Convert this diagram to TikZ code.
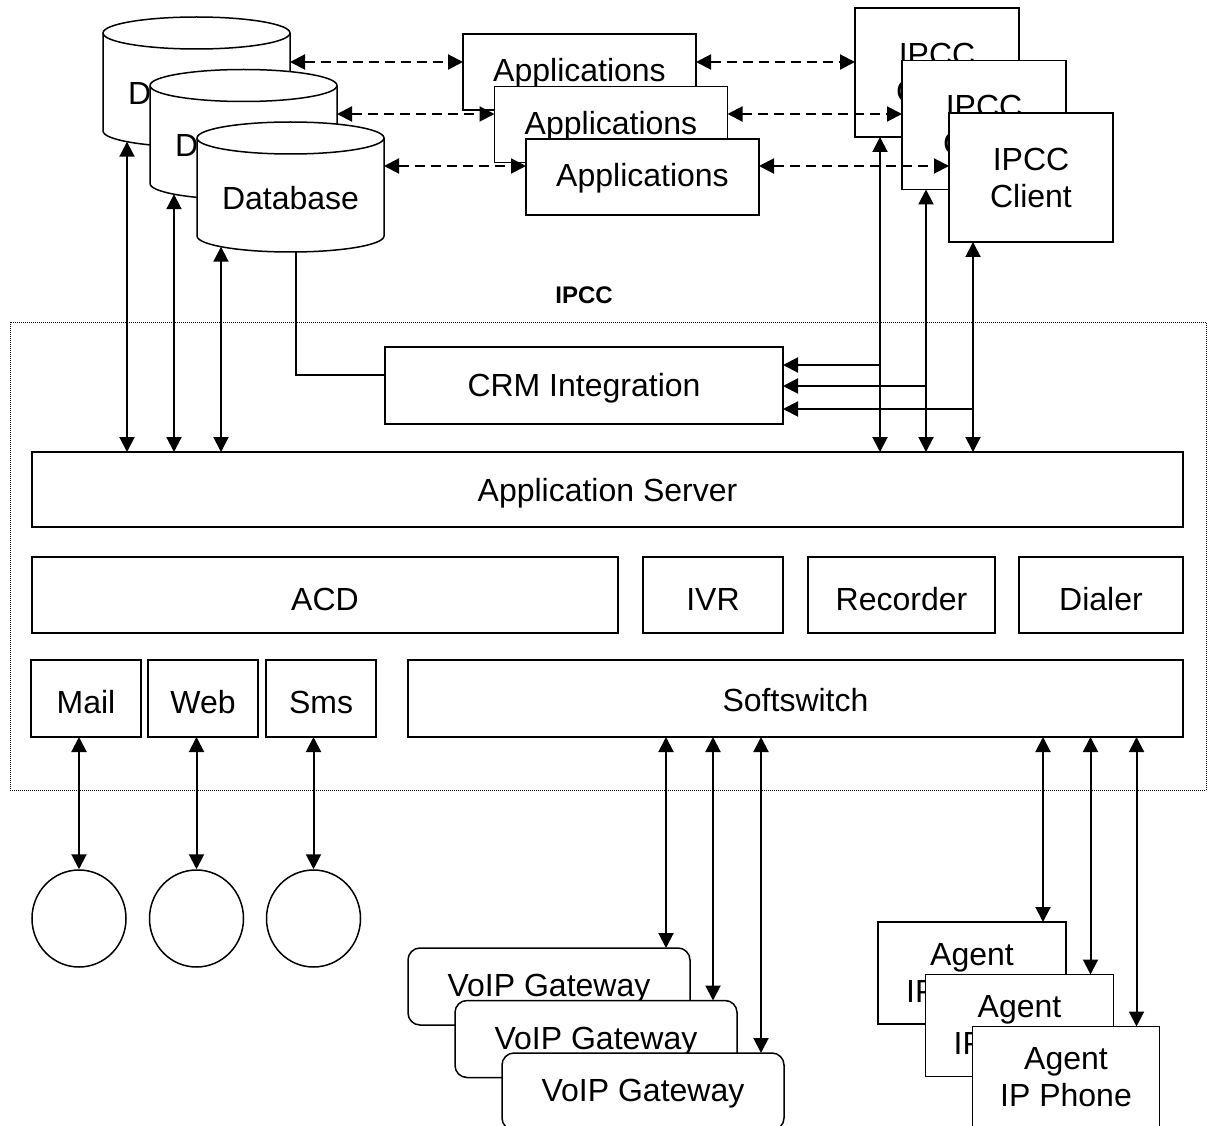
\documentclass[tikz,border=0pt]{standalone}
\usepackage{fontspec}
\setmainfont{Liberation Sans}
\usetikzlibrary{arrows.meta,shapes.geometric}
% cylinder outline drawn over the bounding rectangle of a named node
\newcommand\drawcyl[1]{%
  \filldraw[cyl] ([yshift=-16pt]#1.north west) -- ([yshift=16pt]#1.south west)
    arc[start angle=180,end angle=360,x radius=93.5pt,y radius=16pt]
    -- ([yshift=-16pt]#1.north east)
    arc[start angle=0,end angle=180,x radius=93.5pt,y radius=16pt] -- cycle;
  \draw[cyl,fill=none] ([yshift=-16pt]#1.north west)
    arc[start angle=180,end angle=360,x radius=93.5pt,y radius=16pt];}
\begin{document}
\begin{tikzpicture}[x=1pt,y=-1pt,
  >={Triangle[length=15pt,width=15pt]},
  txt/.style={font=\fontsize{32}{37}\selectfont},
  box/.style={txt, draw, line width=1.5pt, fill=white, rectangle, inner sep=0pt, outer sep=0pt, align=center},
  tb/.style={text height=#1, text depth=0pt},
  rbox/.style={box, rounded corners=12pt},
  slot/.style={rectangle, inner sep=0pt, outer sep=0pt},
  cyl/.style={draw, fill=white, line width=1.5pt},
  lbl/.style={txt, inner sep=0pt},
  bi/.style={<->, line width=2pt},
  one/.style={->, line width=2pt},
  dbi/.style={<->, line width=2pt, dash pattern=on 10pt off 6pt},
  link/.style={line width=1.5pt},
  frame/.style={draw, line width=1pt, dash pattern=on 1pt off 1pt, inner sep=0pt, outer sep=0pt}]

\fill[white] (0,0) rectangle (1208,1126);
\useasboundingbox (0,0) rectangle (1208,1126);
\clip (0,0) rectangle (1208,1126);

% IPCC platform boundary
\node[frame, minimum width=1196pt, minimum height=468pt] (ipcc) at (608,556) {};
\node[font=\fontsize{24}{28}\selectfont\bfseries, inner sep=0pt] (ipcclabel) at (584,295) {IPCC};

% databases
\node[slot, minimum width=187pt, minimum height=130pt] (db1) at (196.5,82) {};
\drawcyl{db1}
\node[lbl] (db1t) at ([yshift=-11pt]db1.center) {Database};
\node[slot, minimum width=187pt, minimum height=130pt] (db2) at (243.5,134.5) {};
\drawcyl{db2}
\node[lbl] (db2t) at ([yshift=-11pt]db2.center) {Database};
\node[slot, minimum width=187pt, minimum height=130pt] (db3) at (290.5,187) {};
\drawcyl{db3}
\node[lbl] (db3t) at ([yshift=-11pt]db3.center) {Database};

% applications
\node[box, tb=20pt, minimum width=233pt, minimum height=76pt] (app1) at (579.5,72) {Applications};
\node[box, tb=20pt, minimum width=233pt, minimum height=76pt] (app2) at (611,124.5) {Applications};
\node[box, tb=20pt, minimum width=233pt, minimum height=76pt] (app3) at (642.5,177) {Applications};

% IPCC clients
\node[box, minimum width=164pt, minimum height=129pt] (cl1) at (937,72.5) {IPCC\\Client};
\node[box, minimum width=164pt, minimum height=129pt] (cl2) at (984,125) {IPCC\\Client};
\node[box, minimum width=164pt, minimum height=129pt] (cl3) at (1031,177.5) {IPCC\\Client};

% platform blocks
\node[box, tb=22pt, minimum width=398pt, minimum height=77pt] (crm) at (584,385.5) {CRM Integration};
\node[box, tb=23pt, minimum width=1151pt, minimum height=75pt] (as) at (607.5,489.5) {Application Server};
\node[box, tb=30pt, minimum width=586pt, minimum height=76pt] (acd) at (325,595) {ACD};
\node[box, tb=30pt, minimum width=140pt, minimum height=76pt] (ivr) at (713,595) {IVR};
\node[box, tb=30pt, minimum width=187pt, minimum height=76pt] (rec) at (901.5,595) {Recorder};
\node[box, tb=30pt, minimum width=164pt, minimum height=76pt] (dial) at (1101,595) {Dialer};
\node[box, tb=29pt, minimum width=110pt, minimum height=77pt] (mail) at (86,698.5) {Mail};
\node[box, tb=29pt, minimum width=110pt, minimum height=77pt] (web) at (203,698.5) {Web};
\node[box, tb=29pt, minimum width=110pt, minimum height=77pt] (sms) at (321,698.5) {Sms};
\node[box, tb=25pt, minimum width=775pt, minimum height=77pt] (sw) at (795.5,698.5) {Softswitch};

% customer endpoints
\node[draw, line width=1.5pt, ellipse, inner sep=0pt, minimum width=94pt, minimum height=97pt] (c1) at (79,918.5) {};
\node[draw, line width=1.5pt, ellipse, inner sep=0pt, minimum width=94pt, minimum height=97pt] (c2) at (196.5,918.5) {};
\node[draw, line width=1.5pt, ellipse, inner sep=0pt, minimum width=94pt, minimum height=97pt] (c3) at (313.5,918.5) {};

% gateways
\node[rbox, tb=20pt, minimum width=282pt, minimum height=77pt] (gw1) at (549,986.5) {VoIP Gateway};
\node[rbox, tb=20pt, minimum width=282pt, minimum height=77pt] (gw2) at (596,1039) {VoIP Gateway};
\node[rbox, tb=20pt, minimum width=282pt, minimum height=77pt] (gw3) at (643,1091.5) {VoIP Gateway};

% agent phones
\node[box, minimum width=188pt, minimum height=102pt] (ag1) at (972,973) {Agent\\IP Phone};
\node[box, minimum width=188pt, minimum height=102pt] (ag2) at (1019.5,1025.5) {Agent\\IP Phone};
\node[box, minimum width=187pt, minimum height=102pt] (ag3) at (1066,1077.5) {Agent\\IP Phone};

% dashed links: databases -- applications -- clients
\coordinate (d1) at ([yshift=10pt]app1.west);
\coordinate (d2) at ([yshift=10.5pt]app2.west);
\coordinate (d3) at ([yshift=11pt]app3.west);
\draw[dbi] (d1 -| db1.east) -- (d1);
\draw[dbi] (d2 -| db2.east) -- (d2);
\draw[dbi] (d3 -| db3.east) -- (d3);
\draw[dbi] (d1 -| app1.east) -- (d1 -| cl1.west);
\draw[dbi] (d2 -| app2.east) -- (d2 -| cl2.west);
\draw[dbi] (d3 -| app3.east) -- (d3 -| cl3.west);

% databases -- application server
\coordinate (b1) at ([xshift=-69.5pt,yshift=5.3pt]db1.south);
\coordinate (b2) at ([xshift=-69.5pt,yshift=5.3pt]db2.south);
\coordinate (b3) at ([xshift=-69.5pt,yshift=5.3pt]db3.south);
\draw[bi] (b1) -- (b1 |- as.north);
\draw[bi] (b2) -- (b2 |- as.north);
\draw[bi] (b3) -- (b3 |- as.north);

% database -- CRM integration
\draw[link] ([xshift=5.5pt]db3.south) |- ([yshift=10.5pt]crm.west);

% clients -- application server, with taps into CRM integration
\coordinate (k1) at ([xshift=-57pt]cl1.south);
\coordinate (k2) at ([xshift=-58pt]cl2.south);
\coordinate (k3) at ([xshift=-58pt]cl3.south);
\draw[bi] (k1) -- (k1 |- as.north);
\draw[bi] (k2) -- (k2 |- as.north);
\draw[bi] (k3) -- (k3 |- as.north);
\coordinate (r1) at ([yshift=20.5pt]crm.east);
\coordinate (r2) at ([yshift=-0.5pt]crm.east);
\coordinate (r3) at ([yshift=-23.5pt]crm.east);
\draw[one] (r1 -| k1) -- (r1);
\draw[one] (r2 -| k2) -- (r2);
\draw[one] (r3 -| k3) -- (r3);

% media channels -- customers
\draw[bi] (c1.north |- mail.south) -- (c1.north);
\draw[bi] (c2.north |- web.south) -- (c2.north);
\draw[bi] (c3.north |- sms.south) -- (c3.north);

% softswitch -- gateways
\coordinate (s1) at ([xshift=-24pt]gw1.north east);
\coordinate (s2) at ([xshift=-24pt]gw2.north east);
\coordinate (s3) at ([xshift=-23pt]gw3.north east);
\draw[bi] (s1 |- sw.south) -- (s1);
\draw[bi] (s2 |- sw.south) -- (s2);
\draw[bi] (s3 |- sw.south) -- (s3);

% softswitch -- agent phones
\coordinate (p1) at ([xshift=-23pt]ag1.north east);
\coordinate (p2) at ([xshift=-23pt]ag2.north east);
\coordinate (p3) at ([xshift=-23pt]ag3.north east);
\draw[bi] (p1 |- sw.south) -- (p1);
\draw[bi] (p2 |- sw.south) -- (p2);
\draw[bi] (p3 |- sw.south) -- (p3);
\end{tikzpicture}
\end{document}
